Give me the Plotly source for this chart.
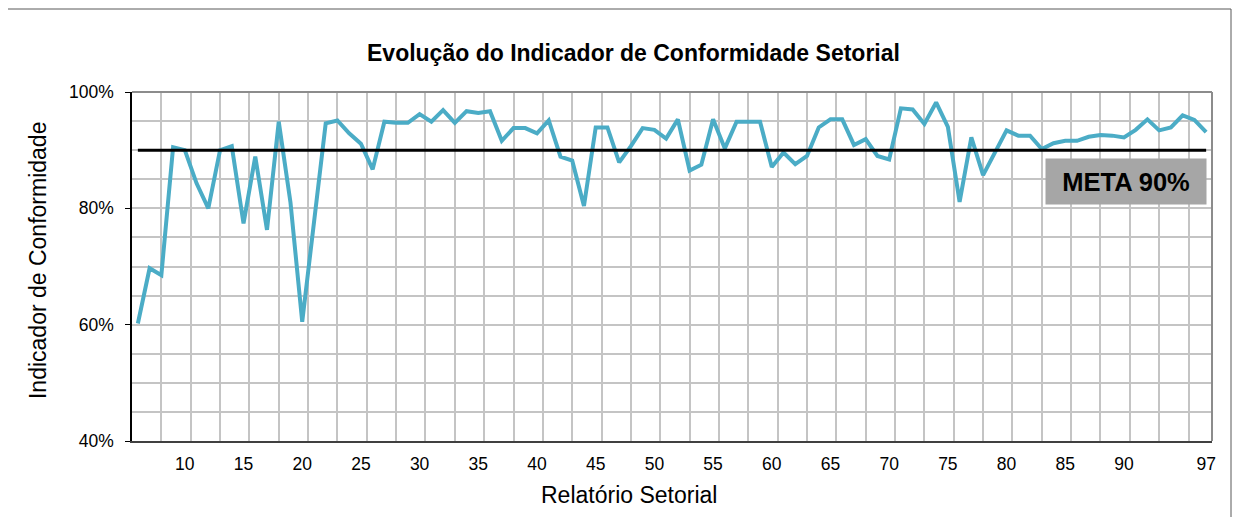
import plotly.graph_objects as go

# Data
relatorios = list(range(6, 98))
conformidade = [
    60.2, 69.7, 68.5, 90.5, 90.0, 84.3, 80.0, 90.0, 90.7, 77.4,   # 6-15
    88.9, 76.3, 94.9, 81.0, 60.5, 78.0, 94.6, 95.1, 92.9, 91.1,   # 16-25
    86.7, 94.9, 94.7, 94.7, 96.2, 94.9, 96.9, 94.7, 96.7, 96.4,   # 26-35
    96.7, 91.6, 93.8, 93.8, 92.9, 95.1, 88.9, 88.2, 80.4, 93.9,   # 36-45
    93.9, 87.9, 90.7, 93.8, 93.5, 92.0, 95.3, 86.5, 87.5, 95.3,   # 46-55
    90.3, 94.9, 94.9, 94.9, 87.1, 89.6, 87.6, 89.0, 93.9, 95.3,   # 56-65
    95.3, 90.9, 91.9, 89.0, 88.4, 97.2, 97.0, 94.5, 98.2, 94.0,   # 66-75
    81.1, 92.2, 85.7, 89.7, 93.4, 92.5, 92.5, 90.2, 91.2, 91.6,   # 76-85
    91.6, 92.3, 92.6, 92.5, 92.2, 93.5, 95.3, 93.4, 93.9, 96.0,   # 86-95
    95.2, 93.1,                                                   # 96-97
]
meta = [90.0] * len(relatorios)
x_ticks = [10, 15, 20, 25, 30, 35, 40, 45, 50, 55, 60, 65, 70, 75, 80, 85, 90, 97]
y_ticks = [40, 60, 80, 100]

FONT = "Liberation Sans, Arial, sans-serif"

fig = go.Figure()
fig.add_trace(go.Scatter(
    x=relatorios, y=[v / 100 for v in conformidade], mode="lines",
    line=dict(color="#4BACC6", width=4), name="Indicador", hoverinfo="x+y"))
fig.add_trace(go.Scatter(
    x=relatorios, y=[v / 100 for v in meta], mode="lines",
    line=dict(color="#000000", width=3), name="Meta"))

fig.update_layout(
    width=1224, height=509,
    margin=dict(l=124, r=20, t=84, b=76),
    paper_bgcolor="white", plot_bgcolor="white",
    showlegend=False,
    font=dict(family=FONT, color="#000000", size=17),
)

fig.update_xaxes(
    range=[5.5, 97.5],
    tickmode="array", tickvals=x_ticks, ticktext=[str(t) for t in x_ticks],
    showgrid=False, zeroline=False,
    ticks="", tickfont=dict(size=17.5), ticklabelstandoff=6,
    showline=True, linecolor="#404040", linewidth=2,
    minor=dict(tick0=5.5, dtick=2.5, showgrid=True, gridcolor="#c4c4c4", gridwidth=1.5, ticks=""),
)
fig.update_yaxes(
    range=[0.4, 1.0],
    tickmode="array", tickvals=[t / 100 for t in y_ticks], ticktext=[f"{t}%" for t in y_ticks],
    showgrid=True, gridcolor="#c4c4c4", gridwidth=1.5, zeroline=False,
    ticks="outside", ticklen=5, tickcolor="#000000", tickwidth=1,
    tickfont=dict(size=17.5), ticklabelstandoff=8,
    showline=True, linecolor="#000000", linewidth=1.5,
    minor=dict(tick0=0.4, dtick=0.05, showgrid=True, gridcolor="#c4c4c4", gridwidth=1.5, ticks=""),
)

# plot area border (top/right) and outer chart border
fig.add_shape(type="line", xref="paper", yref="paper", x0=0, x1=1, y0=1, y1=1,
              line=dict(color="#8c8c8c", width=2), layer="above")
fig.add_shape(type="line", xref="paper", yref="paper", x0=1, x1=1, y0=0, y1=1,
              line=dict(color="#8c8c8c", width=2), layer="above")
fig.add_shape(type="rect", xref="paper", yref="paper",
              x0=-0.1167, x1=1.0176, y0=-0.29, y1=1.2378,
              line=dict(color="#595959", width=1), layer="above")

fig.add_annotation(text="<b>Evolução do Indicador de Conformidade Setorial</b>",
                   xref="paper", yref="paper", x=0.4639, y=1.1117,
                   xanchor="center", yanchor="middle", showarrow=False,
                   font=dict(size=23, family=FONT))
fig.add_annotation(text="Indicador de Conformidade", textangle=-90,
                   xref="paper", yref="paper", x=-0.087, y=0.5158,
                   xanchor="center", yanchor="middle", showarrow=False,
                   font=dict(size=23, family=FONT))
fig.add_annotation(text="Relatório Setorial",
                   xref="paper", yref="paper", x=0.4602, y=-0.1547,
                   xanchor="center", yanchor="middle", showarrow=False,
                   font=dict(size=23, family=FONT))
fig.add_annotation(text="<b>META 90%</b>",
                   xref="x", yref="y", x=90.2, y=0.847,
                   xanchor="center", yanchor="middle", showarrow=False,
                   bgcolor="#a6a6a6", width=156, height=41, borderpad=2,
                   font=dict(size=25.5, family=FONT, color="#000000"))

fig.write_html("out.html")
